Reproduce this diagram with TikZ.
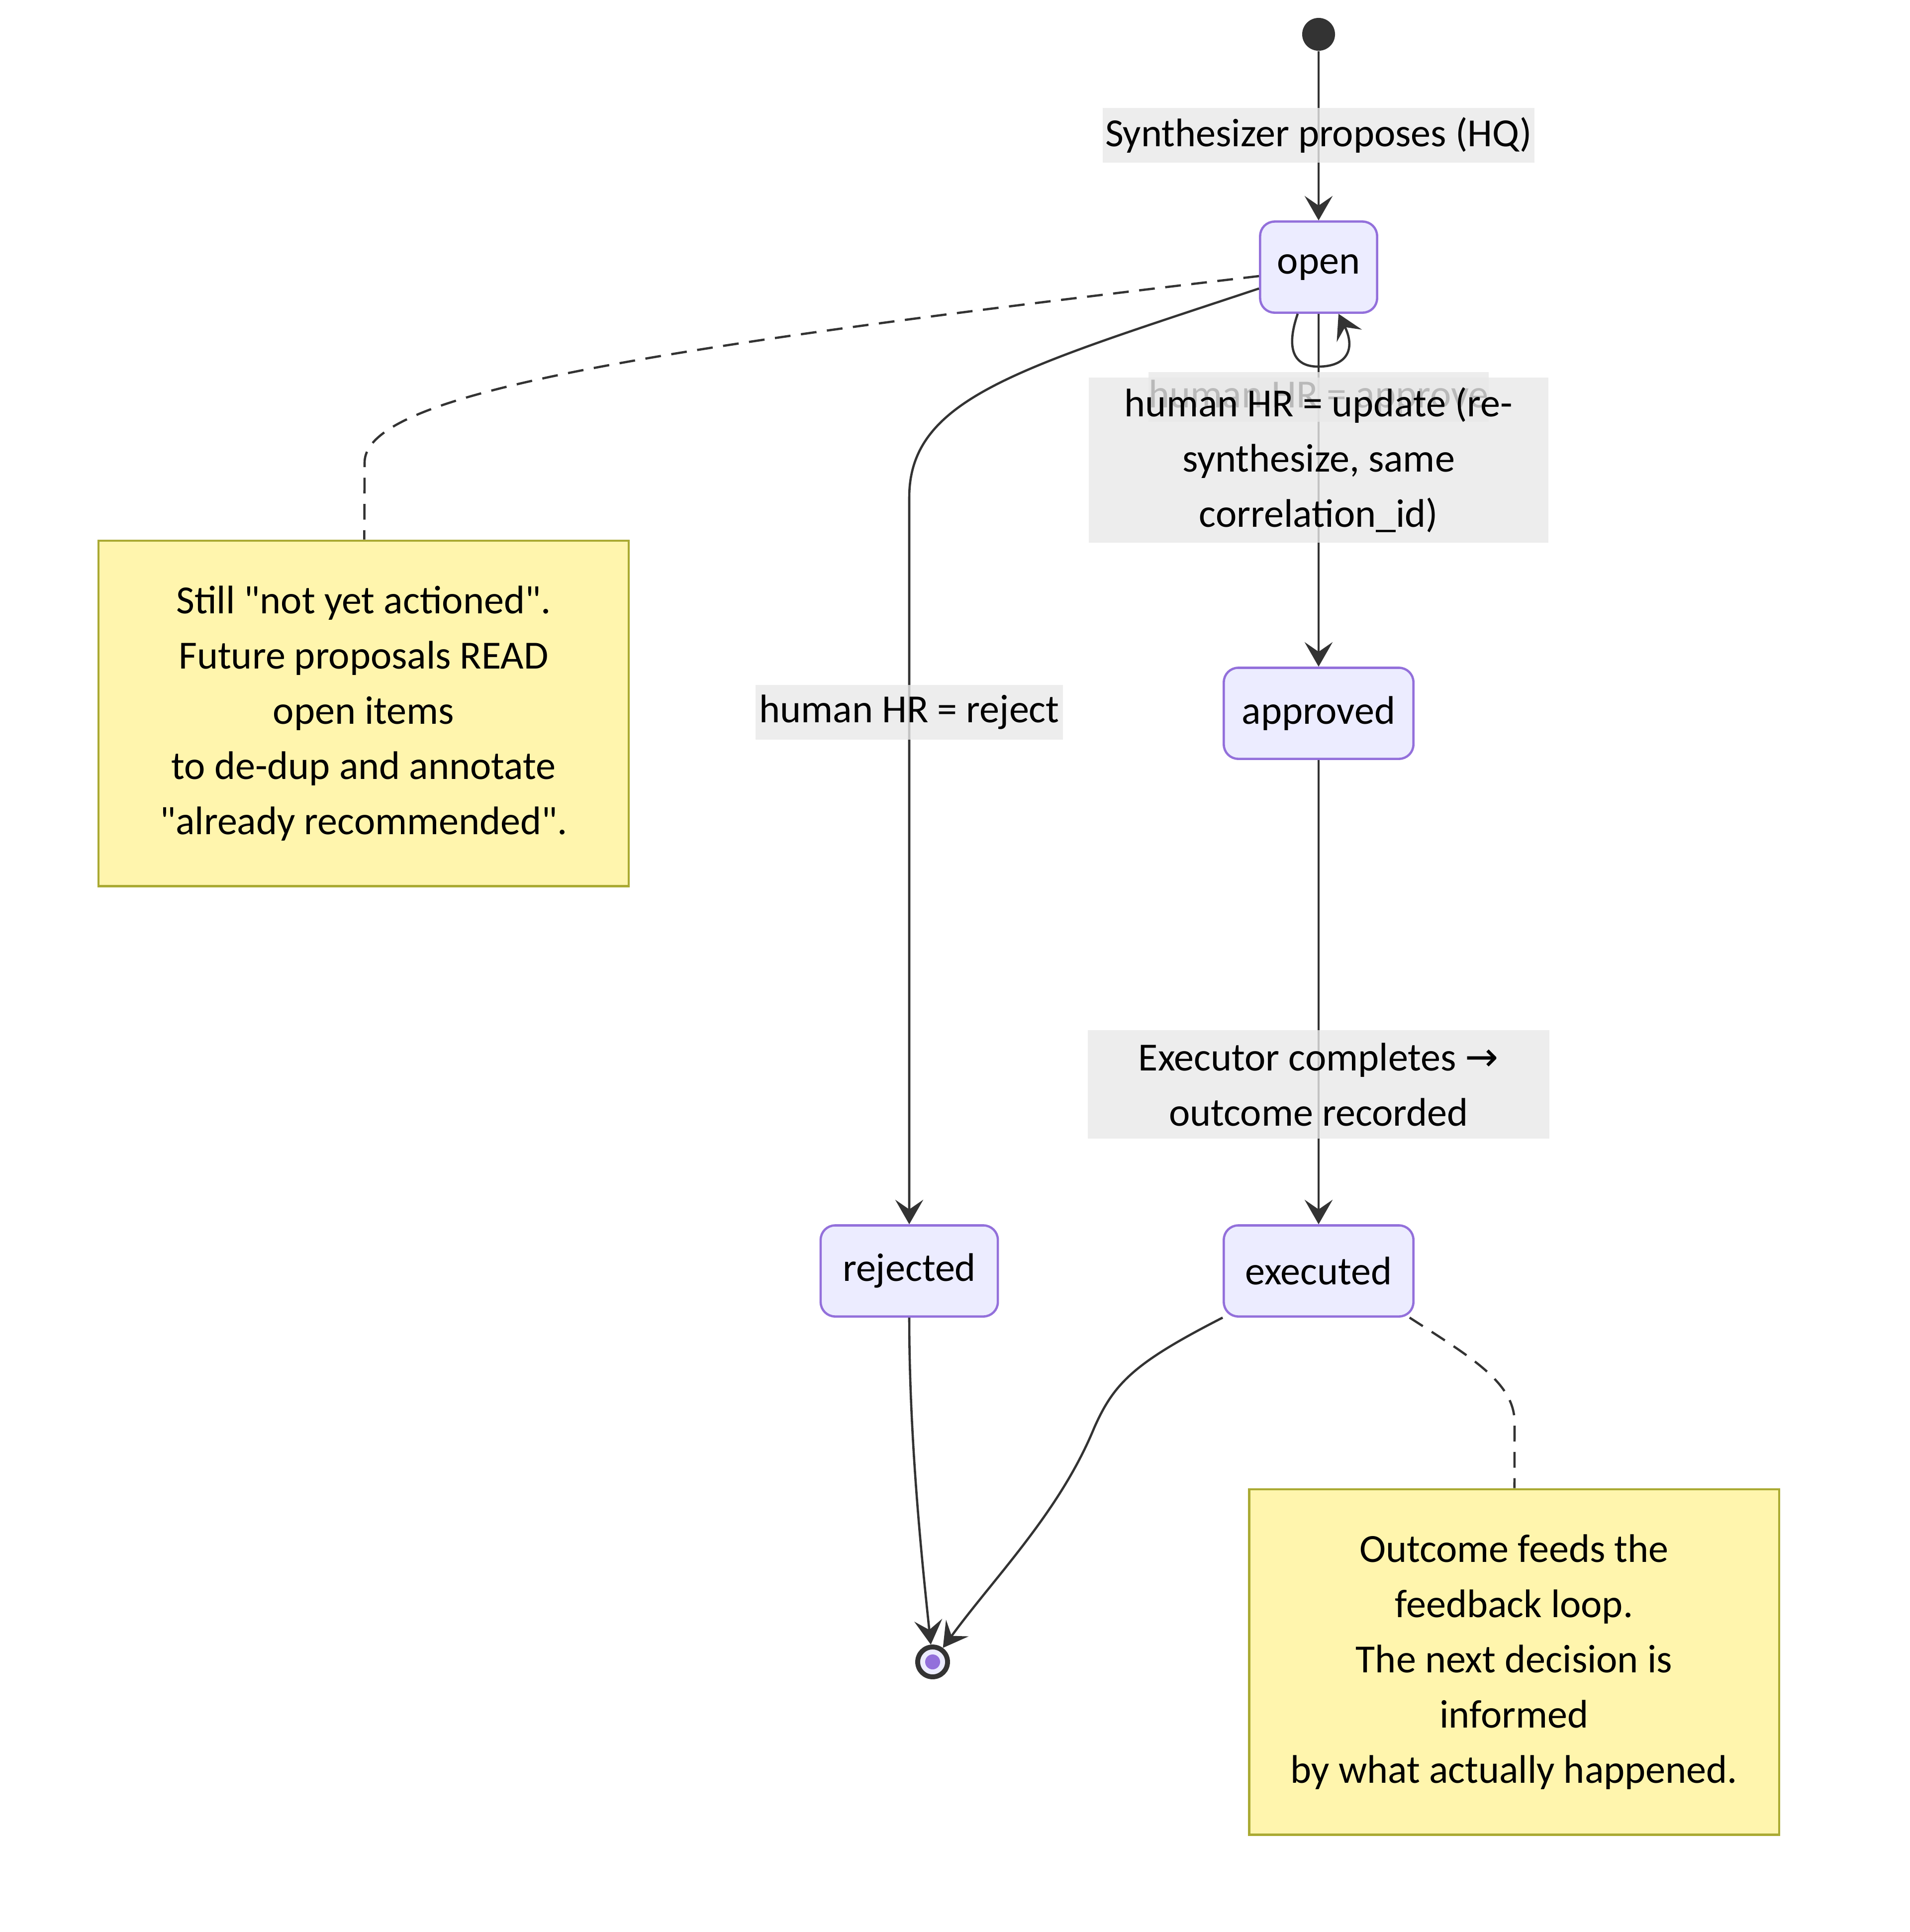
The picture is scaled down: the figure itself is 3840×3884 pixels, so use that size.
\documentclass[tikz,border=0pt]{standalone}
\usepackage{fontspec}
\setmainfont{Carlito}
\newfontfamily\symfont{DejaVu Sans}
\usetikzlibrary{arrows.meta}
\definecolor{statefill}{HTML}{ECECFF}
\definecolor{stateline}{HTML}{9370DB}
\definecolor{notefill}{HTML}{FFF5AD}
\definecolor{noteline}{HTML}{AAAA33}
\definecolor{lblfill}{HTML}{E8E8E8}
\definecolor{edge}{HTML}{333333}
\newcommand{\qt}{\textquotedbl}

\begin{document}
\begin{tikzpicture}[
  x=0.01cm, y=-0.01cm,
  every node/.style={font=\fontsize{22.8}{31.6}\selectfont, text=black},
  state/.style={draw=stateline, fill=statefill, line width=1.3pt, rounded corners=0.29cm, minimum height=1.83cm, inner sep=0},
  note/.style={draw=noteline, fill=notefill, line width=1.3pt, minimum width=10.65cm, minimum height=6.94cm, align=center, inner sep=0},
  lbl/.style={fill=lblfill, fill opacity=0.8, text opacity=1, inner sep=0, minimum height=1.09cm, align=center},
  trans/.style={draw=edge, line width=1.3pt, -{Stealth[length=14pt, width=16pt, inset=5.5pt]}},
  link/.style={draw=edge, line width=1.3pt, dash pattern=on 9pt off 6pt}
]
\useasboundingbox (0,0) rectangle (3840,3884);

% states
\node[circle, fill=edge, minimum size=0.66cm, inner sep=0] (start) at (2651,69) {};
\node[state, minimum width=2.35cm] (open) at (2651,537) {open};
\node[state, minimum width=3.81cm] (approved) at (2651,1434) {approved};
\node[state, minimum width=3.56cm] (rejected) at (1828,2555) {rejected};
\node[state, minimum width=3.81cm] (executed) at (2651,2555) {executed};
\node[circle, draw=edge, line width=2.8pt, fill=statefill, minimum size=0.6cm, inner sep=0] (end) at (1875,3341) {};
\node[circle, fill=stateline, minimum size=0.3cm, inner sep=0] (endcore) at (end) {};

% notes
\node[note] (openNote) at (731,1434) {Still \qt not yet actioned\qt.\\Future proposals READ\\open items\\to de-dup and annotate\\\qt already recommended\qt.};
\node[note] (execNote) at (3044,3341) {Outcome feeds the\\feedback loop.\\The next decision is\\informed\\by what actually happened.};

% transitions
\draw[trans] (start) -- (open);
\draw[trans] (open) -- (approved);
\draw[trans] (approved) -- (executed);
\draw[trans] ([yshift=-0.43cm]open.west) .. controls (2050,740) and (1828,800) .. (1828,1000) -- (rejected);
\draw[trans] ([xshift=-0.42cm]open.south) .. controls (2585,700) and (2600,737) .. (2650,737) .. controls (2710,737) and (2725,700) .. ([xshift=0.4cm]open.south);
\draw[trans] (rejected.south) .. controls (1828,2900) and (1855,3150) .. (end);
\draw[trans] (executed.south west) .. controls (2280,2740) and (2240,2780) .. (2200,2870) .. controls (2130,3040) and (2000,3170) .. (end);

% note links
\draw[link] ([yshift=-0.18cm]open.west) .. controls (1300,700) and (733,790) .. (733,930) -- (openNote);
\draw[link] ([xshift=-0.1cm]executed.south east) .. controls (2960,2730) and (3045,2780) .. (3045,2860) -- (execNote);

% edge labels
\node[lbl, minimum width=8.67cm] (lblSynth) at (2651,272) {Synthesizer proposes (HQ)};
\node[lbl, minimum width=6.83cm, minimum height=1.0cm] (lblApprove) at (2651,798) {human HR = approve};
\node[lbl, minimum width=9.23cm, minimum height=3.31cm] (lblUpdate) at (2651,925) {human HR = update (re-\\synthesize, same\\correlation\_id)};
\node[lbl, minimum width=6.17cm] (lblReject) at (1828,1432) {human HR = reject};
\node[lbl, minimum width=9.27cm, minimum height=2.18cm] (lblExec) at (2651,2180) {Executor completes {\symfont →}\\outcome recorded};
\end{tikzpicture}
\end{document}
